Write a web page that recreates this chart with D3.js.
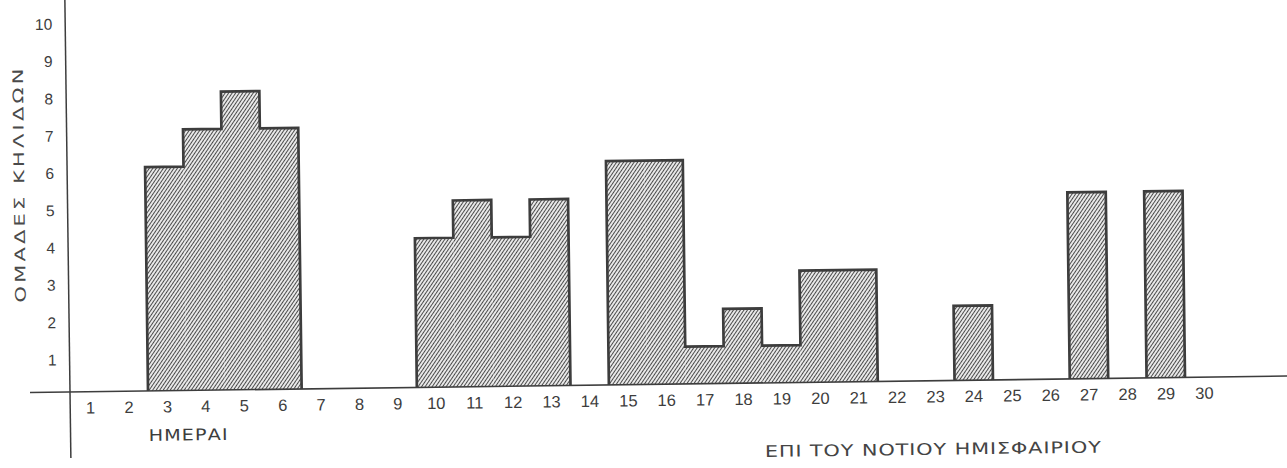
<!DOCTYPE html>
<html><head><meta charset="utf-8">
<script src="https://cdn.jsdelivr.net/npm/d3@7"></script>
<style>html,body{margin:0;padding:0;background:#fff;overflow:hidden}</style>
</head><body><svg id="c" width="1287" height="468"></svg>
<script>
// ---- data ----
const days = ["1","2","3","4","5","6","7","8","9","10","11","12","13","14","15",
              "16","17","18","19","20","21","22","23","24","25","26","27","28","29","30"];
const groupCounts = [0,0,6,7,8,7,0,0,0,4,5,4,5,0,6,6,1,2,1,3,3,0,0,2,0,0,5,0,5,0];
const yTicks = [1,2,3,4,5,6,7,8,9,10];
const yTitle = "ΟΜΑΔΕΣ ΚΗΛΙΔΩΝ";
const xTitle = "ΗΜΕΡΑΙ";
const subTitle = "ΕΠΙ ΤΟΥ ΝΟΤΙΟΥ ΗΜΙΣΦΑΙΡΙΟΥ";

// ---- layout ----
const ox = 70, oy = 392;
const svg = d3.select("#c");
const ink = "#3d3d3d";
const font = "'Liberation Sans', Arial, sans-serif";
const wideFont = "'DejaVu Sans', 'Liberation Sans', sans-serif";

const defs = svg.append("defs");
const pat = defs.append("pattern").attr("id","hatch")
  .attr("patternUnits","userSpaceOnUse").attr("width",2.9).attr("height",10)
  .attr("patternTransform","rotate(35)");
pat.append("rect").attr("width",2.9).attr("height",10).attr("fill","#f4f4f4");
pat.append("line").attr("x1",1.45).attr("x2",1.45).attr("y1",0).attr("y2",10)
  .attr("stroke","#4a4a4a").attr("stroke-width",1.1);

const g = svg.append("g").attr("transform",`rotate(-0.75,${ox},${oy})`);

const x = d3.scaleBand().domain(days).range([71.2, 71.2 + 30*38.41]).padding(0);
const y = d3.scaleLinear().domain([0,10]).range([oy, 19]);
const bw = x.bandwidth();

// bars (hatched)
g.append("g").selectAll("rect").data(days.filter((d,i)=>groupCounts[i]>0))
  .join("rect")
  .attr("x", d=>x(d)).attr("width", bw)
  .attr("y", d=>y(groupCounts[days.indexOf(d)]))
  .attr("height", d=>y(0)-y(groupCounts[days.indexOf(d)]))
  .attr("fill","url(#hatch)");

// outlines of contiguous runs (step outline)
const runs = []; let cur = null;
groupCounts.forEach((v,i)=>{ if(v>0){ if(!cur){cur=[];runs.push(cur);} cur.push(i);} else cur=null; });
runs.forEach(r=>{
  const p = d3.path();
  p.moveTo(x(days[r[0]]), y(0));
  r.forEach(i=>{ p.lineTo(x(days[i]), y(groupCounts[i])); p.lineTo(x(days[i])+bw, y(groupCounts[i])); });
  p.lineTo(x(days[r[r.length-1]])+bw, y(0));
  g.append("path").attr("d", p.toString()).attr("fill","none")
    .attr("stroke", ink).attr("stroke-width",2.7).attr("stroke-linejoin","miter");
});

// axes lines
g.append("line").attr("x1",30).attr("x2",1310).attr("y1",oy).attr("y2",oy)
  .attr("stroke",ink).attr("stroke-width",1.6);
g.append("line").attr("x1",ox).attr("x2",ox).attr("y1",-12).attr("y2",458)
  .attr("stroke",ink).attr("stroke-width",1.5);

// x tick labels
const xa = g.append("g").attr("transform",`translate(0,${oy})`)
  .call(d3.axisBottom(x).tickSize(0).tickPadding(10));
xa.select(".domain").remove();
xa.selectAll("text").attr("font-family",font).attr("font-size",16.5).attr("fill",ink);

// y tick labels
const ya = g.append("g").attr("transform",`translate(${ox},0)`)
  .call(d3.axisLeft(y).tickValues(yTicks).tickSize(0).tickPadding(13));
ya.select(".domain").remove();
ya.selectAll("text").attr("y",5).attr("font-family",font).attr("font-size",15.5).attr("fill",ink);

// titles (extended lettering, like the typed original)
g.append("text").attr("transform","translate(27,185) rotate(-90) scale(1.45,1)")
  .attr("text-anchor","middle").attr("font-family",wideFont).attr("font-size",14.5)
  .attr("fill","#4a4a4a").attr("textLength",234/1.45).attr("lengthAdjust","spacing")
  .text(yTitle);
g.append("text").attr("transform","translate(148,442) scale(1.2,1)")
  .attr("font-family",wideFont).attr("font-size",16)
  .attr("fill",ink).attr("textLength",79/1.2).attr("lengthAdjust","spacing").text(xTitle);
g.append("text").attr("transform","translate(764,466) scale(1.3,1)")
  .attr("font-family",wideFont).attr("font-size",16)
  .attr("fill","#444").attr("textLength",336/1.3).attr("lengthAdjust","spacing").text(subTitle);
</script></body></html>
